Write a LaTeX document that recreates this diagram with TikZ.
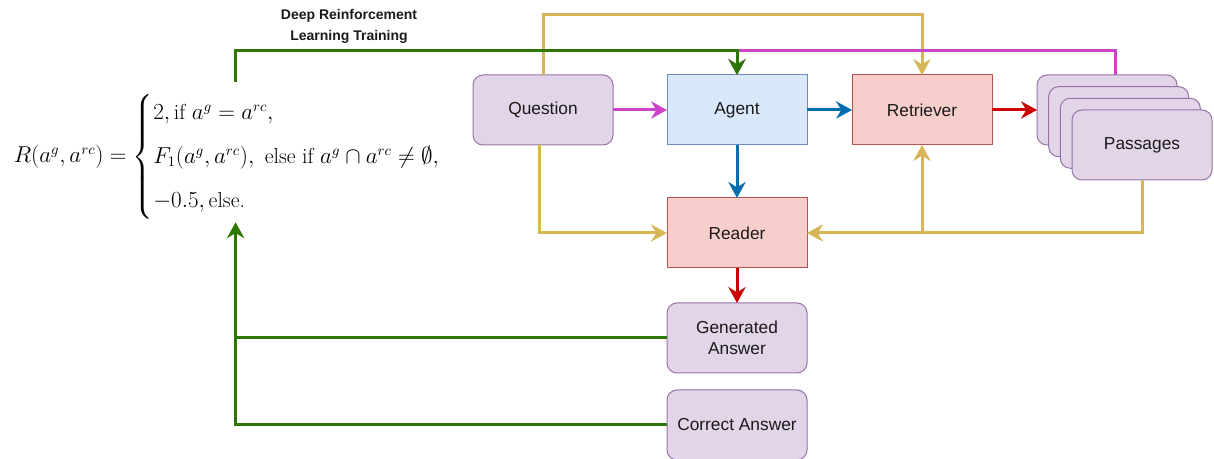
\documentclass[tikz,border=0pt]{standalone}
\usepackage{amsmath}
\usepackage{fontspec}
\newfontfamily\arialfont{Liberation Sans}
\usetikzlibrary{arrows.meta}

\definecolor{pfill}{HTML}{E1D5E7}
\definecolor{pline}{HTML}{9673A6}
\definecolor{bfill}{HTML}{DAE8FC}
\definecolor{bline}{HTML}{6C8EBF}
\definecolor{rfill}{HTML}{F8CECC}
\definecolor{rline}{HTML}{B85450}
\definecolor{ylink}{HTML}{D6B656}
\definecolor{mlink}{HTML}{CC44CC}
\definecolor{blink}{HTML}{006EAF}
\definecolor{rlink}{HTML}{CC0000}
\definecolor{glink}{HTML}{2D7600}
\definecolor{ink}{HTML}{1A1A1A}

\begin{document}
\begin{tikzpicture}[x=0.75pt,y=-0.75pt,
  box/.style={draw, line width=0.75pt, minimum width=105pt, minimum height=52.5pt,
    inner sep=2pt, outer sep=0pt, align=center, text=ink,
    font=\arialfont\fontsize{13}{15.5}\selectfont},
  purplebox/.style={box, rounded corners=7.5pt, fill=pfill, draw=pline},
  bluebox/.style={box, fill=bfill, draw=bline},
  redbox/.style={box, fill=rfill, draw=rline},
  flow/.style={line width=2.25pt},
  tip/.style={-{Stealth[length=12pt,width=13pt,inset=4pt]}},
]
\useasboundingbox (0,0) rectangle (1214,459);

% reward function
\node[inner sep=0pt, minimum height=105pt] (reward) at (238,157)
  {\fontsize{16.3}{20}\selectfont$R(a^g,a^{rc})=\begin{cases}
     2,\text{if } a^g=a^{rc},\\[9pt]
     F_1(a^g,a^{rc}),\ \text{else if } a^g\cap a^{rc}\neq\emptyset,\\[9pt]
     -0.5,\text{else.}
   \end{cases}$};
\coordinate (rtop) at ([xshift=-2.2pt,yshift=3.75pt]reward.north);
\coordinate (rbot) at ([xshift=-1.8pt,yshift=3.75pt]reward.south);

% training label
\node[align=center, text=ink, font=\arialfont\bfseries\fontsize{10.5}{15.75}\selectfont]
  (drl) at (349,26) {Deep Reinforcement\\Learning Training};

% pipeline boxes
\node[purplebox] (question) at (543,110) {Question};
\node[bluebox] (agent) at (737,110) {Agent};
\node[redbox] (retriever) at (922,110) {Retriever};
\node[purplebox] (p1) at (1107,110) {};
\node[purplebox] (p2) at (1118.7,121.7) {};
\node[purplebox] (p3) at (1130.3,133.3) {};
\node[purplebox] (p4) at (1142,145) {Passages};
\node[redbox] (reader) at (737,233) {Reader};
\node[purplebox] (generated) at (737,338) {Generated\\Answer};
\node[purplebox] (correct) at (737,425) {Correct Answer};

% main flow
\draw[flow, mlink, tip] (question) -- (agent);
\draw[flow, blink, tip] (agent) -- (retriever);
\draw[flow, rlink, tip] (retriever) -- (p1);
\draw[flow, blink, tip] (agent) -- (reader);
\draw[flow, rlink, tip] (reader) -- (generated);

% question and passages feeding retriever / reader
\draw[flow, ylink, tip] (question.north) -- ++(0,-60) -| (retriever.north);
\draw[flow, ylink, tip] ([xshift=-3pt]question.south) |- (reader.west);
\draw[flow, ylink, tip] (p4.south) |- (reader.east);
\draw[flow, ylink, tip] (retriever.south |- reader.east) -- (retriever.south);

% passages back to agent
\draw[flow, mlink, tip] ([xshift=6pt]p1.north) -- ++(0,-24) -| (agent.north);

% reward signal
\draw[flow, glink, tip] (rtop) -- ++(0,-31) -| (agent.north);
\draw[flow, glink, tip] (correct.west) -| (rbot);
\draw[flow, glink] (generated.west) -- (generated.west -| rbot);
\end{tikzpicture}
\end{document}
